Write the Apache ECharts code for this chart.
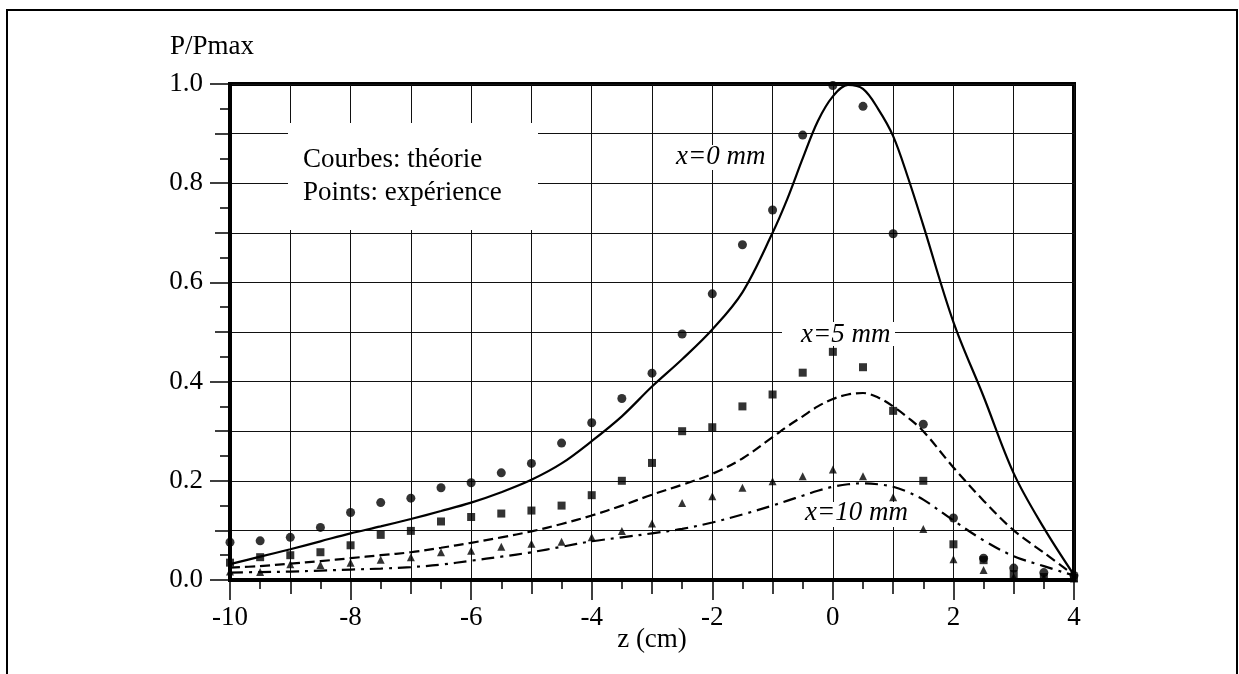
<!DOCTYPE html>
<html>
<head>
<meta charset="utf-8">
<title>P/Pmax</title>
<script src="https://cdn.jsdelivr.net/npm/echarts@6/dist/echarts.min.js"></script>
<style>
  html, body { margin: 0; padding: 0; background: #fff; }
  #chart { width: 1239px; height: 674px; }
</style>
</head>
<body>
<div id="chart"></div>
<script>
// positions z (cm) des points de mesure
var zExp = [-10, -9.5, -9, -8.5, -8, -7.5, -7, -6.5, -6, -5.5, -5, -4.5, -4, -3.5, -3,
            -2.5, -2, -1.5, -1, -0.5, 0, 0.5, 1, 1.5, 2, 2.5, 3, 3.5, 4];
// points: experience
var expX0 = [0.076, 0.079, 0.086, 0.106, 0.136, 0.156, 0.165, 0.186, 0.196, 0.216, 0.235, 0.276, 0.317, 0.366, 0.417,
             0.496, 0.577, 0.676, 0.746, 0.897, 0.997, 0.955, 0.698, 0.314, 0.125, 0.044, 0.024, 0.015, 0.009];
var expX5 = [0.035, 0.046, 0.050, 0.056, 0.070, 0.091, 0.099, 0.118, 0.127, 0.134, 0.140, 0.150, 0.171, 0.200, 0.236,
             0.300, 0.308, 0.350, 0.374, 0.418, 0.460, 0.429, 0.341, 0.200, 0.072, 0.040, 0.012, 0.006, 0.004];
var expX10 = [0.017, 0.016, 0.032, 0.030, 0.035, 0.041, 0.046, 0.056, 0.059, 0.067, 0.073, 0.077, 0.086, 0.099, 0.114,
              0.155, 0.169, 0.186, 0.199, 0.209, 0.223, 0.209, 0.167, 0.103, 0.042, 0.020, 0.006, 0.004, 0.003];

// courbes: theorie (pas plus fin autour du maximum)
var zTheo = [-10, -9.5, -9, -8.5, -8, -7.5, -7, -6.5, -6, -5.5, -5, -4.5, -4, -3.5, -3, -2.5, -2, -1.5,
             -1, -0.75, -0.5, -0.25, 0, 0.25, 0.5, 0.75, 1, 1.25,
             1.5, 2, 2.5, 3, 3.5, 4];
var theoX0 = [0.032, 0.047, 0.062, 0.078, 0.094, 0.108, 0.123, 0.139, 0.156, 0.177, 0.202, 0.235, 0.280, 0.330, 0.390, 0.445, 0.505, 0.580,
              0.700, 0.770, 0.850, 0.925, 0.975, 0.998, 0.990, 0.950, 0.895, 0.810,
              0.715, 0.520, 0.370, 0.215, 0.105, 0.010];
var theoX5 = [0.025, 0.028, 0.033, 0.038, 0.044, 0.050, 0.056, 0.065, 0.075, 0.086, 0.098, 0.113, 0.130, 0.150, 0.172, 0.192, 0.214, 0.245,
              0.288, 0.310, 0.330, 0.350, 0.365, 0.374, 0.377, 0.368, 0.350, 0.327,
              0.300, 0.227, 0.160, 0.100, 0.055, 0.010];
var theoX10 = [0.015, 0.016, 0.017, 0.019, 0.021, 0.023, 0.026, 0.031, 0.039, 0.047, 0.056, 0.067, 0.078, 0.086, 0.094, 0.103, 0.116, 0.132,
               0.150, 0.160, 0.170, 0.180, 0.188, 0.193, 0.195, 0.193, 0.188, 0.177,
               0.162, 0.120, 0.080, 0.048, 0.028, 0.009];

var FONT = '"Liberation Serif", "Times New Roman", serif';

function pairs(xs, ys) {
    var out = [];
    for (var i = 0; i < xs.length; i++) {
        out.push([xs[i], ys[i]]);
    }
    return out;
}

function label(text, x, y, font, align) {
    return {
        type: 'text', z: 101, x: x, y: y,
        style: {
            text: text, font: font, fill: '#000',
            align: align, verticalAlign: 'middle',
            textAlign: align, textVerticalAlign: 'middle'
        }
    };
}

function whiteBox(x, y, w, h) {
    return { type: 'rect', z: 100, shape: { x: x, y: y, width: w, height: h }, style: { fill: '#fff' } };
}

var myChart = echarts.init(document.getElementById('chart'));

var tickStyle = { color: '#000', width: 1.5 };
var gridLine = { color: '#111', width: 1 };

var option = {
    animation: false,
    backgroundColor: '#fff',
    grid: {
        left: 230, right: 165, top: 84, bottom: 94,
        show: true,
        backgroundColor: '#fff',
        borderColor: '#000',
        borderWidth: 4
    },
    xAxis: [{
        type: 'value', min: -10, max: 4, interval: 2,
        axisLine: { show: true, onZero: false, lineStyle: { color: '#000', width: 4 } },
        axisTick: { show: true, length: 20, lineStyle: tickStyle },
        axisLabel: {
            color: '#000', fontFamily: FONT, fontSize: 27, margin: 24,
            formatter: function (v) { return String(v); }
        },
        splitLine: { show: false }
    }, {
        type: 'value', min: -10, max: 4, interval: 1, position: 'bottom',
        axisLine: { show: false, onZero: false },
        axisTick: { show: true, length: 14, lineStyle: tickStyle },
        minorTick: { show: true, splitNumber: 2, length: 9, lineStyle: tickStyle },
        axisLabel: { show: false },
        splitLine: { show: true, lineStyle: gridLine }
    }],
    yAxis: [{
        type: 'value', min: 0, max: 1, interval: 0.2,
        axisLine: { show: true, onZero: false, lineStyle: { color: '#000', width: 4 } },
        axisTick: { show: true, length: 20, lineStyle: tickStyle },
        axisLabel: {
            color: '#000', fontFamily: FONT, fontSize: 27, margin: 27,
            formatter: function (v) { return v.toFixed(1); }
        },
        splitLine: { show: false }
    }, {
        type: 'value', min: 0, max: 1, interval: 0.1, position: 'left',
        axisLine: { show: false, onZero: false },
        axisTick: { show: true, length: 15, lineStyle: tickStyle },
        minorTick: { show: true, splitNumber: 2, length: 10, lineStyle: tickStyle },
        axisLabel: { show: false },
        splitLine: { show: true, lineStyle: gridLine }
    }],
    series: [{
        name: 'x=0 mm theorie', type: 'line',
        data: pairs(zTheo, theoX0),
        smooth: 0.35, showSymbol: false,
        lineStyle: { color: '#000', width: 2.2, type: 'solid' }
    }, {
        name: 'x=5 mm theorie', type: 'line',
        data: pairs(zTheo, theoX5),
        smooth: 0.35, showSymbol: false,
        lineStyle: { color: '#000', width: 2.2, type: [10, 5] }
    }, {
        name: 'x=10 mm theorie', type: 'line',
        data: pairs(zTheo, theoX10),
        smooth: 0.35, showSymbol: false,
        lineStyle: { color: '#000', width: 2.2, type: [13, 6, 3, 6] }
    }, {
        name: 'x=0 mm', type: 'scatter',
        data: pairs(zExp, expX0),
        symbol: 'circle', symbolSize: 9,
        itemStyle: { color: '#000' }
    }, {
        name: 'x=5 mm', type: 'scatter',
        data: pairs(zExp, expX5),
        symbol: 'rect', symbolSize: 8,
        itemStyle: { color: '#000' }
    }, {
        name: 'x=10 mm', type: 'scatter',
        data: pairs(zExp, expX10),
        symbol: 'triangle', symbolSize: 8,
        itemStyle: { color: '#000' }
    }],
    graphic: [
        // cadre de la page
        { type: 'rect', z: 100, shape: { x: 7, y: 10, width: 1230, height: 720 },
          style: { fill: 'none', stroke: '#000', lineWidth: 2 } },
        // encadre blanc de la legende
        whiteBox(288, 123, 250, 107),
        label('Courbes: théorie', 303, 160, '27px ' + FONT, 'left'),
        label('Points: expérience', 303, 193, '27px ' + FONT, 'left'),
        // etiquettes des courbes
        whiteBox(672, 145, 100, 25),
        label('x=0 mm', 676, 157, 'italic 27px ' + FONT, 'left'),
        whiteBox(782, 322, 113, 24),
        label('x=5 mm', 801, 335, 'italic 27px ' + FONT, 'left'),
        whiteBox(801, 502, 112, 25),
        label('x=10 mm', 805, 513, 'italic 27px ' + FONT, 'left'),
        // noms des axes
        label('P/Pmax', 170, 47, '27px ' + FONT, 'left'),
        label('z (cm)', 652, 640, '27px ' + FONT, 'center')
    ]
};

myChart.setOption(option);
</script>
</body>
</html>
